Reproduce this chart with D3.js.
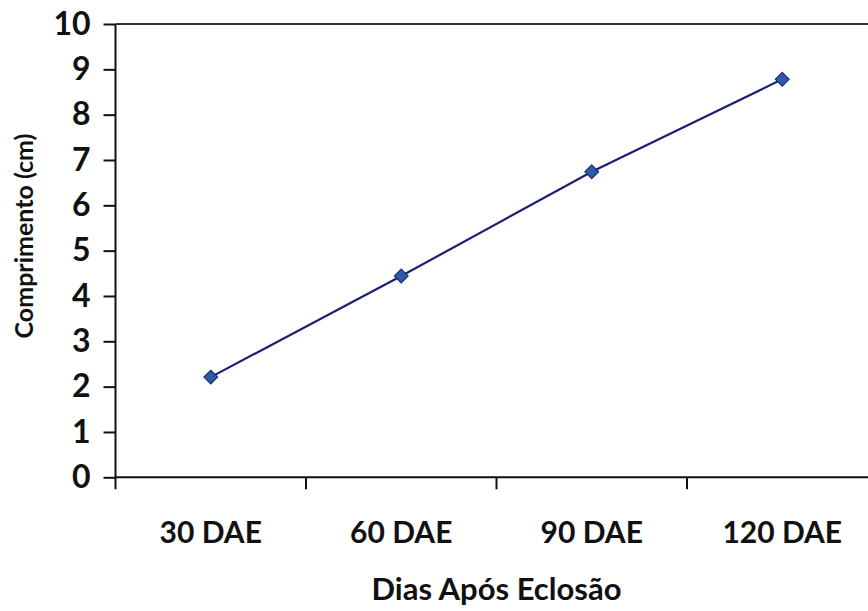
<!DOCTYPE html>
<html>
<head>
<meta charset="utf-8">
<script src="https://cdn.jsdelivr.net/npm/d3@7"></script>
<style>
  html, body { margin: 0; padding: 0; background: #fff; }
  svg { display: block; }
  text { font-family: Lato, "Open Sans", sans-serif; fill: #111; }
</style>
</head>
<body>
<svg id="chart" width="868" height="611"></svg>
<script>
const categories = ["30 DAE", "60 DAE", "90 DAE", "120 DAE"];
const values = [2.21, 4.44, 6.74, 8.78];
const yTicks = [0, 1, 2, 3, 4, 5, 6, 7, 8, 9, 10];
const xTitle = "Dias Após Eclosão";
const yTitle = "Comprimento (cm)";

(function () {
const svg = d3.select("#chart");
const mLeft = 115.5, mRight = 877.5, mTop = 24, mBottom = 477.3;

const x = d3.scaleBand().domain(categories).range([mLeft, mRight]).padding(0);
const y = d3.scaleLinear().domain([0, 10]).range([mBottom, mTop]);

// plot border (top and right)
svg.append("line").attr("x1", mLeft).attr("x2", mRight).attr("y1", y(10)).attr("y2", y(10))
  .attr("stroke", "#333").attr("stroke-width", 2);
svg.append("line").attr("x1", mRight).attr("x2", mRight).attr("y1", y(10)).attr("y2", y(0))
  .attr("stroke", "#333").attr("stroke-width", 2);

// y axis
const yAxis = svg.append("g").attr("transform", `translate(${mLeft},0)`)
  .call(d3.axisLeft(y).tickValues(yTicks).tickSize(12).tickPadding(13).tickFormat(d3.format("d")));
yAxis.select(".domain").attr("stroke", "#111").attr("stroke-width", 2).attr("d", `M0,${y(10)}V${y(0)}`);
yAxis.selectAll(".tick line").attr("stroke", "#111").attr("stroke-width", 2);
yAxis.selectAll(".tick text").attr("font-size", 32).attr("font-weight", 700)
  .attr("font-family", "Lato, sans-serif").attr("fill", "#111");

// x axis line
svg.append("line").attr("x1", mLeft).attr("x2", mRight).attr("y1", y(0)).attr("y2", y(0))
  .attr("stroke", "#111").attr("stroke-width", 2);
// x ticks at category boundaries
const boundaries = categories.map(c => x(c)).concat([x(categories[categories.length - 1]) + x.bandwidth()]);
svg.selectAll(".xtick").data(boundaries).enter().append("line")
  .attr("x1", d => d).attr("x2", d => d).attr("y1", y(0)).attr("y2", y(0) + 12)
  .attr("stroke", "#111").attr("stroke-width", 2);
// x labels
svg.selectAll(".xlab").data(categories).enter().append("text")
  .attr("x", d => x(d) + x.bandwidth() / 2).attr("y", 543)
  .attr("text-anchor", "middle").attr("font-size", 30).attr("font-weight", 700)
  .text(d => d);

// titles
svg.append("text").attr("x", (mLeft + mRight) / 2).attr("y", 600)
  .attr("text-anchor", "middle").attr("font-size", 31).attr("font-weight", 700)
  .text(xTitle);
svg.append("text").attr("transform", `translate(33,236) rotate(-90)`)
  .attr("text-anchor", "middle").attr("font-size", 25).attr("font-weight", 700)
  .text(yTitle);

// line
const pts = categories.map((c, i) => [x(c) + x.bandwidth() / 2, y(values[i])]);
svg.append("path").datum(pts)
  .attr("d", d3.line())
  .attr("fill", "none").attr("stroke", "#1c1f78").attr("stroke-width", 2.2);

// markers
svg.selectAll(".mk").data(pts).enter().append("path")
  .attr("transform", d => `translate(${d[0]},${d[1]})`)
  .attr("d", d3.symbol().type(d3.symbolDiamond2).size(120))
  .attr("fill", "#2e5aa8").attr("stroke", "#1c2f6e").attr("stroke-width", 1.2);
})();
</script>
</body>
</html>
